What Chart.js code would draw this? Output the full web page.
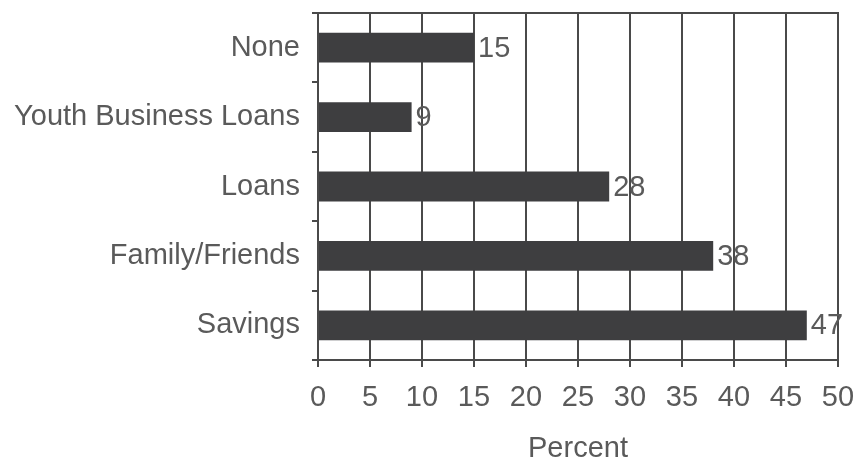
<!DOCTYPE html>
<html>
<head>
<meta charset="utf-8">
<script src="https://cdn.jsdelivr.net/npm/chart.js@4/dist/chart.umd.min.js"></script>
<style>
    html, body { margin: 0; padding: 0; background: #fff; }
    .chart-wrapper { position: relative; width: 859px; height: 461px; }
</style>
</head>
<body>
<div class="chart-wrapper"><canvas id="chart"></canvas></div>
<script>
// chart data
const categories = ['None', 'Youth Business Loans', 'Loans', 'Family/Friends', 'Savings'];
const percents = [15, 9, 28, 38, 47];
const xTicks = [0, 5, 10, 15, 20, 25, 30, 35, 40, 45, 50];

const textColor = '#5a5a5a';
const lineColor = '#4a4a4a';
const font = { family: '"Liberation Sans", Arial, sans-serif', size: 29 };

// draws the value after each bar and the top frame line
const extras = {
    id: 'extras',
    afterDatasetsDraw(chart) {
        const ctx = chart.ctx;
        const area = chart.chartArea;
        ctx.save();
        ctx.strokeStyle = lineColor;
        ctx.lineWidth = 2;
        ctx.beginPath();
        ctx.moveTo(area.left - 5, area.top);
        ctx.lineTo(area.right + 1, area.top);
        ctx.stroke();

        ctx.fillStyle = textColor;
        ctx.font = font.size + 'px ' + font.family;
        ctx.textBaseline = 'middle';
        ctx.textAlign = 'left';
        chart.getDatasetMeta(0).data.forEach((bar, i) => {
            ctx.fillText(String(percents[i]), bar.x + 4, bar.y + 1);
        });
        ctx.restore();
    }
};

new Chart(document.getElementById('chart'), {
    type: 'bar',
    data: {
        labels: categories,
        datasets: [{
            data: percents,
            backgroundColor: '#3e3e40',
            barPercentage: 0.43,
            categoryPercentage: 1
        }]
    },
    options: {
        indexAxis: 'y',
        responsive: true,
        maintainAspectRatio: false,
        animation: false,
        layout: { padding: { top: 13, right: 21, left: 0, bottom: 0 } },
        plugins: { legend: { display: false }, tooltip: { enabled: false } },
        scales: {
            x: {
                min: 0,
                max: 50,
                afterBuildTicks(scale) { scale.ticks = xTicks.map(v => ({ value: v })); },
                afterFit(scale) {
                    scale.height = 101;
                    scale.paddingLeft = 0;
                    scale.paddingRight = 0;
                },
                grid: { color: lineColor, lineWidth: 2, tickLength: 7, tickColor: lineColor },
                border: { color: lineColor, width: 2 },
                ticks: { color: textColor, font: font, padding: 14, maxRotation: 0 },
                title: { display: true, text: 'Percent', color: textColor, font: font, padding: { top: 4, bottom: -5 } }
            },
            y: {
                afterFit(scale) {
                    scale.width = 318;
                    scale.paddingTop = 0;
                    scale.paddingBottom = 0;
                },
                grid: { drawOnChartArea: false, offset: true, tickLength: 6, tickColor: lineColor, lineWidth: 2 },
                border: { color: lineColor, width: 2 },
                ticks: { color: textColor, font: font, padding: 12 }
            }
        }
    },
    plugins: [extras]
});
</script>
</body>
</html>
